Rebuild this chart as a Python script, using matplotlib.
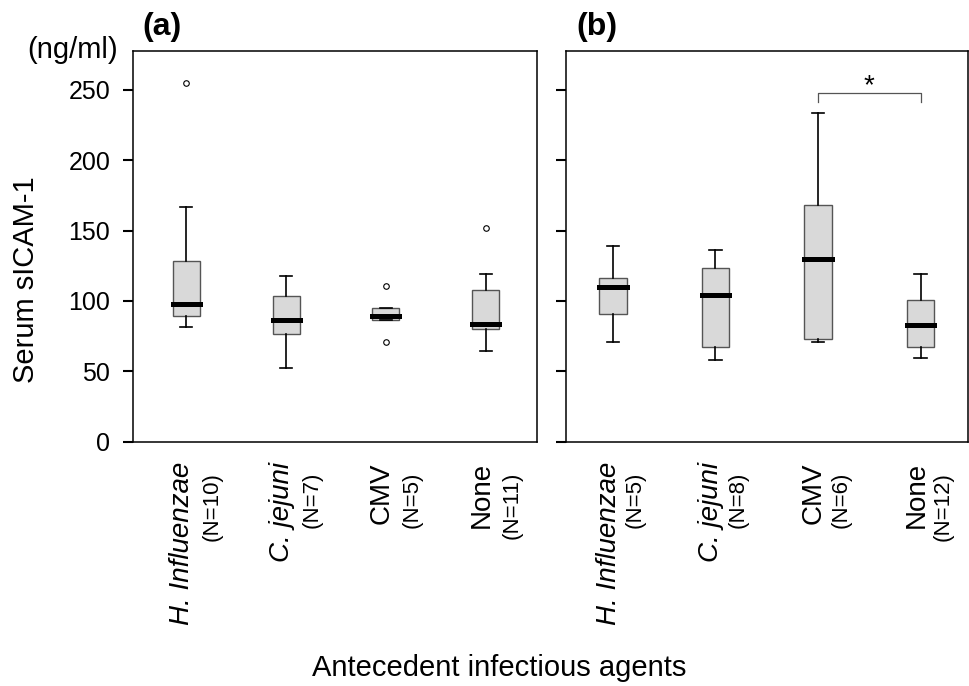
import matplotlib
matplotlib.use('Agg')
import matplotlib.pyplot as plt

plt.rcParams['font.family'] = ['Liberation Sans', 'DejaVu Sans']

# 数据 (box stats)
agents = ['H. Influenzae', 'C. jejuni', 'CMV', 'None']
italic = [True, True, False, False]
n_a = ['(N=10)', '(N=7)', '(N=5)', '(N=11)']
n_b = ['(N=5)', '(N=8)', '(N=6)', '(N=12)']

# panel (a): whislo, q1, med, q3, whishi
a_whislo = [81.5, 52, 86.4, 64.4]
a_q1 = [89, 76.5, 86.4, 79.8]
a_med = [97.6, 86.7, 89.3, 83.8]
a_q3 = [128.3, 103.7, 95.2, 107.5]
a_whishi = [166.5, 117.7, 95.2, 119.3]
a_fliers = [[255], [], [110.6, 70.8], [151.8]]

# panel (b)
b_whislo = [70.8, 57.8, 70.8, 59.2]
b_q1 = [90.9, 67.5, 72.7, 67.5]
b_med = [109.9, 104, 129.8, 82.7]
b_q3 = [116, 123.4, 167.9, 100.4]
b_whishi = [138.8, 135.9, 233.2, 119.3]
b_fliers = [[], [], [], []]

yticks = [0, 50, 100, 150, 200, 250]


def make_stats(lo, q1, med, q3, hi, fl):
    stats = []
    for i in range(len(lo)):
        stats.append(dict(whislo=lo[i], q1=q1[i], med=med[i], q3=q3[i],
                          whishi=hi[i], fliers=fl[i]))
    return stats


fig = plt.figure(figsize=(9.69, 6.86), dpi=100)
ax1 = fig.add_axes([0.1376, 0.3561, 0.4163, 0.5700])
ax2 = fig.add_axes([0.5838, 0.3561, 0.4150, 0.5700])


def draw_panel(ax, stats, nlabels, xlim, noff):
    ax.bxp(stats, positions=[1, 2, 3, 4], widths=0.27, capwidths=0.12,
           patch_artist=True,
           boxprops=dict(facecolor='#d9d9d9', edgecolor='#555555', linewidth=1.0),
           whiskerprops=dict(color='black', linewidth=1.2),
           capprops=dict(color='black', linewidth=1.2),
           medianprops=dict(color='black', linewidth=3.6, solid_capstyle='projecting'),
           flierprops=dict(marker='o', markersize=4, markerfacecolor='white',
                           markeredgecolor='black', markeredgewidth=0.8))
    ax.set_ylim(0, 277.7)
    ax.set_xlim(*xlim)
    ax.set_yticks(yticks)
    ax.set_xticks([])
    ax.tick_params(axis='y', direction='out', length=7.2, width=1.5, pad=9.5,
                   labelsize=18)
    for s in ax.spines.values():
        s.set_linewidth(1.1)
    tr = ax.get_xaxis_transform()
    for i in range(4):
        ax.text(i + 1 - 0.04, -0.052, agents[i], transform=tr, rotation=90,
                ha='center', va='top', fontsize=20,
                style='italic' if italic[i] else 'normal')
        ax.text(i + 1 + noff, -0.0775, nlabels[i], transform=tr, rotation=90,
                ha='center', va='top', fontsize=16)


draw_panel(ax1, make_stats(a_whislo, a_q1, a_med, a_q3, a_whishi, a_fliers),
           n_a, (0.47, 4.51), 0.26)
draw_panel(ax2, make_stats(b_whislo, b_q1, b_med, b_q3, b_whishi, b_fliers),
           n_b, (0.54, 4.46), 0.22)
ax2.set_yticklabels([])

# 显著性标记
ax2.plot([3, 3, 4, 4], [241, 248, 248, 241], color='#555555', linewidth=0.9)
ax2.text(3.5, 243, '*', ha='center', va='bottom', fontsize=20)

fig.text(162 / 969, 1 - 27 / 686, '(a)', fontsize=23, fontweight='bold',
         ha='center', va='center')
fig.text(597 / 969, 1 - 27 / 686, '(b)', fontsize=23, fontweight='bold',
         ha='center', va='center')
fig.text(73 / 969, 1 - 50 / 686, '(ng/ml)', fontsize=21, ha='center', va='center')
fig.text(26 / 969, 1 - 280 / 686, 'Serum sICAM-1', fontsize=21, rotation=90,
         ha='center', va='center')
fig.text(499 / 969, 1 - 668 / 686, 'Antecedent infectious agents', fontsize=21,
         ha='center', va='center')

plt.savefig('out.png', dpi=100)
